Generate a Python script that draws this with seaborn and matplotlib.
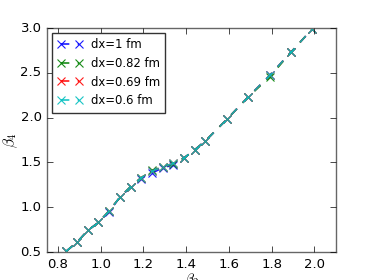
import matplotlib
matplotlib.use('Agg')
import matplotlib.pyplot as plt
import seaborn as sns
import pandas as pd

# ================================
# DATA
# ================================
beta2 = [0.84, 0.89, 0.94, 0.99, 1.04, 1.09, 1.14, 1.19, 1.24, 1.29,
         1.34, 1.39, 1.44, 1.49, 1.59, 1.69, 1.79, 1.89, 1.99]

b4_dx1 = [0.51, 0.61, 0.74, 0.83, 0.95, 1.11, 1.22, 1.32, 1.38, 1.44,
          1.47, 1.55, 1.64, 1.74, 1.98, 2.23, 2.47, 2.73, 2.99]
b4_dx082 = [0.51, 0.61, 0.74, 0.83, 0.96, 1.11, 1.23, 1.33, 1.41, 1.45,
            1.48, 1.55, 1.64, 1.74, 1.98, 2.23, 2.45, 2.73, 2.99]
b4_dx069 = [0.51, 0.61, 0.74, 0.83, 0.96, 1.11, 1.23, 1.33, 1.40, 1.45,
            1.49, 1.55, 1.64, 1.74, 1.98, 2.23, 2.47, 2.73, 2.99]
b4_dx06 = [0.51, 0.61, 0.74, 0.83, 0.96, 1.11, 1.23, 1.33, 1.40, 1.45,
           1.49, 1.55, 1.64, 1.74, 1.98, 2.23, 2.47, 2.73, 2.99]

labels = ['dx=1 fm', 'dx=0.82 fm', 'dx=0.69 fm', 'dx=0.6 fm']
series = [b4_dx1, b4_dx082, b4_dx069, b4_dx06]
colors = ['b', 'g', 'r', 'c']

# ================================
# STYLE
# ================================
plt.style.use('classic')
plt.rcParams['mathtext.fontset'] = 'cm'
plt.rcParams['font.family'] = ['DejaVu Sans']
plt.rcParams['savefig.facecolor'] = 'white'
plt.rcParams['figure.facecolor'] = 'white'

fig, ax = plt.subplots(figsize=(3.74, 2.8), dpi=100)
fig.subplots_adjust(left=0.126, right=0.898, bottom=0.1, top=0.9)

# ================================
# PLOT
# ================================
for lab, vals, col in zip(labels, series, colors):
    df = pd.DataFrame({'beta2': beta2, 'beta4': vals})
    sns.lineplot(data=df, x='beta2', y='beta4', ax=ax, color=col,
                 marker='x', markersize=5.5, markeredgewidth=0.8,
                 markeredgecolor=col, linestyle='--', linewidth=1.2,
                 dashes=(3, 2.5), alpha=0.9,
                 label=lab, sort=False, estimator=None)

ax.set_xlim(0.75, 2.1)
ax.set_ylim(0.5, 3.0)
ax.set_xticks([0.8, 1.0, 1.2, 1.4, 1.6, 1.8, 2.0])
ax.set_yticks([0.5, 1.0, 1.5, 2.0, 2.5, 3.0])
ax.tick_params(labelsize=9.5, direction='in', length=4, top=True, right=True)
ax.set_xlabel(r'$\beta_2$', fontsize=11, labelpad=1)
ax.set_ylabel(r'$\beta_4$', fontsize=11, labelpad=0)
for s in ax.spines.values():
    s.set_color('0.4')

leg = ax.legend(loc='upper left', fontsize=8.4, numpoints=2,
                fancybox=False, frameon=True, borderpad=0.45,
                labelspacing=0.5, handlelength=2.15, handletextpad=0.75,
                borderaxespad=0.4)
leg.get_frame().set_edgecolor('0.2')

plt.savefig('out.png', dpi=100)
print("saved")
